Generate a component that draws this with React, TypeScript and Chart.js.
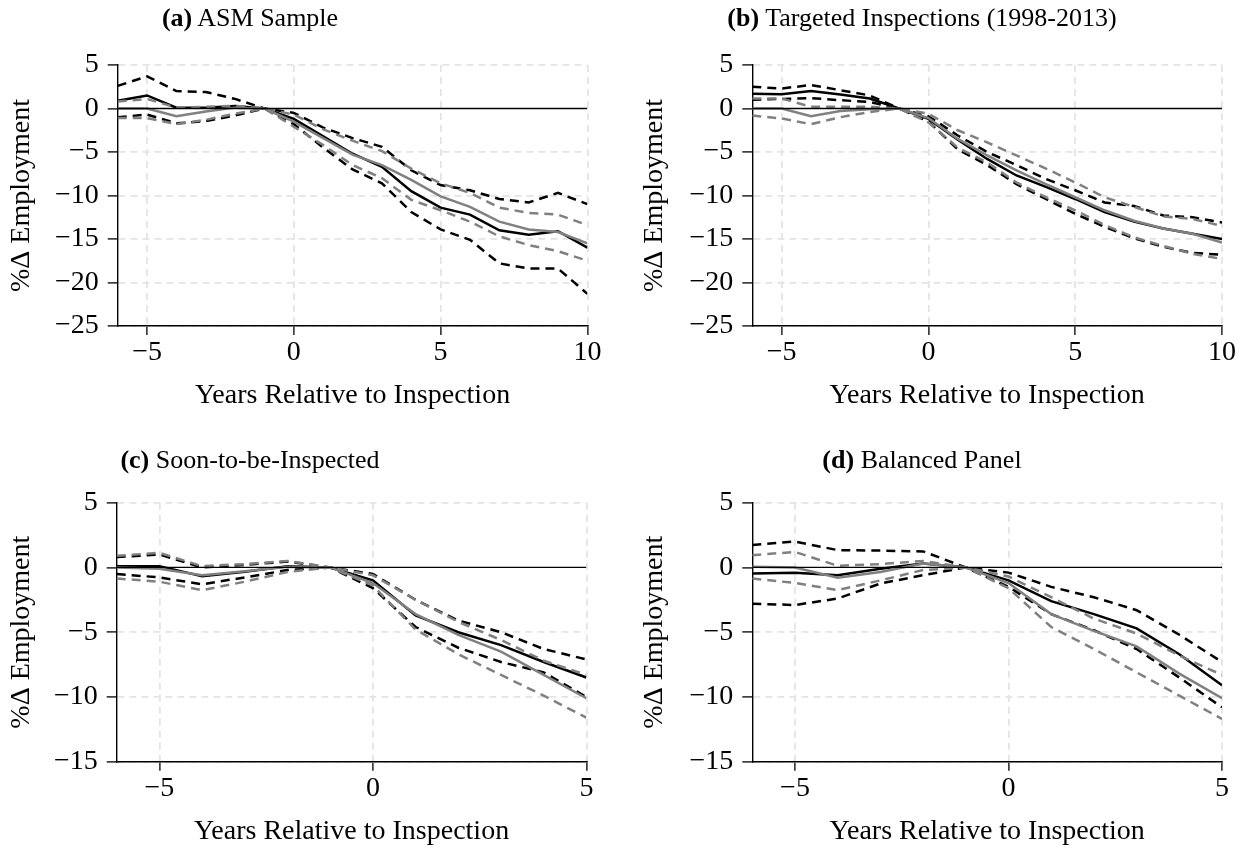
import React, { useEffect, useRef } from "react";
import { Chart, registerables } from "chart.js";

Chart.register(...registerables);

// ---------- data ----------
const yearsLong = [-6, -5, -4, -3, -2, -1, 0, 1, 2, 3, 4, 5, 6, 7, 8, 9, 10];
const yearsShort = [-6, -5, -4, -3, -2, -1, 0, 1, 2, 3, 4, 5];

const xTicksLong = [-5, 0, 5, 10];
const xTicksShort = [-5, 0, 5];
const yTicksTop = [-25, -20, -15, -10, -5, 0, 5];
const yTicksBottom = [-15, -10, -5, 0, 5];

// (a) ASM Sample
const aBlackSolid = [0.9, 1.5, 0.1, 0.1, 0.3, 0, -1.2, -3.2, -5.2, -6.7, -9.5, -11.4, -12.2, -14.0, -14.5, -14.1, -16.0];
const aBlackUpper = [2.6, 3.7, 2.0, 1.9, 1.1, 0, -0.5, -2.2, -3.4, -4.4, -7.1, -8.8, -9.4, -10.4, -10.8, -9.7, -11.0];
const aBlackLower = [-1.0, -0.7, -1.7, -1.45, -0.8, 0, -1.8, -4.5, -7.0, -8.6, -11.9, -13.9, -15.1, -17.8, -18.4, -18.4, -21.3];
const aGraySolid = [0.0, 0.0, -0.9, -0.35, 0.1, 0, -1.5, -3.4, -5.3, -6.5, -8.2, -10.1, -11.3, -13.0, -13.9, -14.2, -15.5];
const aGrayUpper = [0.8, 1.1, 0.1, 0.2, 0.3, 0, -0.7, -2.4, -3.7, -4.9, -6.9, -8.6, -9.7, -11.4, -12.0, -12.2, -13.4];
const aGrayLower = [-1.1, -1.1, -1.8, -1.3, -0.6, 0, -2.1, -4.2, -6.5, -8.0, -10.5, -11.7, -13.0, -14.7, -15.7, -16.4, -17.5];

// (b) Targeted Inspections (1998-2013)
const bBlackSolid = [1.7, 1.65, 2.0, 1.6, 1.15, 0, -1.2, -3.6, -5.8, -7.7, -9.0, -10.4, -11.9, -13.0, -13.8, -14.4, -15.0];
const bBlackUpper = [2.5, 2.3, 2.7, 2.1, 1.5, 0, -0.9, -3.1, -5.0, -6.5, -8.1, -9.4, -10.8, -11.2, -12.3, -12.5, -13.1];
const bBlackLower = [1.0, 1.1, 1.2, 0.95, 0.75, 0, -1.5, -4.7, -6.5, -8.7, -10.4, -12.1, -13.6, -14.9, -15.9, -16.6, -16.8];
const bGraySolid = [0.0, 0.0, -0.9, -0.3, -0.1, 0, -1.1, -3.5, -5.4, -7.1, -8.7, -10.2, -11.7, -12.9, -13.8, -14.4, -15.4];
const bGrayUpper = [1.15, 1.15, 0.2, 0.2, 0.2, 0, -0.6, -2.5, -3.9, -5.4, -6.9, -8.5, -10.2, -11.3, -12.4, -12.7, -13.5];
const bGrayLower = [-0.8, -1.15, -1.8, -1.0, -0.4, 0, -1.6, -4.5, -6.2, -8.5, -10.2, -11.7, -13.4, -14.8, -15.8, -16.7, -17.3];

// (c) Soon-to-be-Inspected
const cBlackSolid = [0.1, 0.1, -0.67, -0.33, 0.1, 0, -1.0, -3.7, -5.0, -6.0, -7.3, -8.5];
const cBlackUpper = [0.8, 1.0, 0.0, 0.2, 0.45, 0, -0.5, -2.5, -4.1, -5.0, -6.3, -7.1];
const cBlackLower = [-0.5, -0.77, -1.3, -0.77, -0.2, 0, -1.6, -4.6, -6.2, -7.3, -8.1, -10.0];
const cGraySolid = [0.0, -0.1, -0.6, -0.3, 0.05, 0, -1.2, -3.6, -5.2, -6.5, -8.3, -10.1];
const cGrayUpper = [0.9, 1.13, 0.1, 0.26, 0.5, 0, -0.6, -2.5, -4.2, -5.6, -7.2, -8.3];
const cGrayLower = [-0.85, -1.1, -1.75, -1.1, -0.35, 0, -1.4, -4.8, -6.7, -8.3, -9.9, -11.6];

// (d) Balanced Panel
const dBlackSolid = [-0.46, -0.4, -0.6, -0.1, 0.3, 0, -1.0, -2.6, -3.6, -4.7, -6.7, -9.1];
const dBlackUpper = [1.73, 2.0, 1.34, 1.3, 1.24, 0, -0.4, -1.5, -2.3, -3.3, -5.2, -7.3];
const dBlackLower = [-2.8, -2.9, -2.4, -1.24, -0.6, 0, -1.5, -3.6, -4.85, -6.3, -8.5, -10.8];
const dGraySolid = [0.05, 0.0, -0.8, -0.35, 0.3, 0, -1.2, -3.6, -4.9, -6.1, -8.2, -10.1];
const dGrayUpper = [0.95, 1.2, 0.13, 0.26, 0.5, 0, -0.7, -2.3, -3.95, -5.1, -6.8, -8.3];
const dGrayLower = [-0.85, -1.2, -1.75, -1.0, -0.2, 0, -1.6, -4.6, -6.3, -8.1, -9.9, -11.7];

const panelLetters = ["(a)", "(b)", "(c)", "(d)"];
const panelNames = ["ASM Sample", "Targeted Inspections (1998-2013)", "Soon-to-be-Inspected", "Balanced Panel"];
const xAxisTitle = "Years Relative to Inspection";
const yAxisTitle = "%\u0394 Employment";

// ---------- styling / layout ----------
const FONT = "'Liberation Serif', 'Times New Roman', serif";
const BLACK = "#000000";
const GRAY = "#808080";
const GRID = "#e4e4e4";

type Spec = {
  left: number; top: number; w: number; h: number;
  padTop: number; padRight: number; yWidth: number; xHeight: number;
  xTitlePad: number; yTitlePad: number;
  years: number[]; xMin: number; xMax: number; xTicks: number[];
  yMin: number; yMax: number; yTicks: number[];
  series: number[][]; // blackSolid, blackUpper, blackLower, graySolid, grayUpper, grayLower
  titleX: number; titleY: number; idx: number;
};

const specs: Spec[] = [
  {
    left: 0, top: 30, w: 623, h: 400, padTop: 35, padRight: 35.6, yWidth: 117.7, xHeight: 104,
    xTitlePad: 18, yTitlePad: 5, years: yearsLong, xMin: -6, xMax: 10, xTicks: xTicksLong,
    yMin: -25, yMax: 5, yTicks: yTicksTop,
    series: [aBlackSolid, aBlackUpper, aBlackLower, aGraySolid, aGrayUpper, aGrayLower],
    titleX: 250, titleY: 18, idx: 0,
  },
  {
    left: 635, top: 30, w: 612, h: 400, padTop: 35, padRight: 25, yWidth: 117.3, xHeight: 104,
    xTitlePad: 18, yTitlePad: 3, years: yearsLong, xMin: -6, xMax: 10, xTicks: xTicksLong,
    yMin: -25, yMax: 5, yTicks: yTicksTop,
    series: [bBlackSolid, bBlackUpper, bBlackLower, bGraySolid, bGrayUpper, bGrayLower],
    titleX: 922, titleY: 18, idx: 1,
  },
  {
    left: 0, top: 470, w: 623, h: 380, padTop: 32.7, padRight: 36.6, yWidth: 116.7, xHeight: 88.3,
    xTitlePad: 2, yTitlePad: 5, years: yearsShort, xMin: -6, xMax: 5, xTicks: xTicksShort,
    yMin: -15, yMax: 5, yTicks: yTicksBottom,
    series: [cBlackSolid, cBlackUpper, cBlackLower, cGraySolid, cGrayUpper, cGrayLower],
    titleX: 250, titleY: 460, idx: 2,
  },
  {
    left: 635, top: 470, w: 612, h: 380, padTop: 32.7, padRight: 25, yWidth: 117.3, xHeight: 88.3,
    xTitlePad: 2, yTitlePad: 3, years: yearsShort, xMin: -6, xMax: 5, xTicks: xTicksShort,
    yMin: -15, yMax: 5, yTicks: yTicksBottom,
    series: [dBlackSolid, dBlackUpper, dBlackLower, dGraySolid, dGrayUpper, dGrayLower],
    titleX: 922, titleY: 460, idx: 3,
  },
];

const fmt = (v: number) => (v < 0 ? "\u2212" + Math.abs(v) : String(v));

function line(xs: number[], ys: number[], color: string, dashed: boolean) {
  return {
    data: xs.map((x, i) => ({ x, y: ys[i] })),
    borderColor: color,
    borderWidth: 2.5,
    borderDash: dashed ? [9, 6] : [],
    pointRadius: 0,
    tension: 0,
    fill: false,
  };
}

function build(canvas: HTMLCanvasElement, s: Spec) {
  const [bs, bu, bl, gs, gu, gl] = s.series;
  const zero = {
    data: [{ x: s.xMin, y: 0 }, { x: s.xMax, y: 0 }],
    borderColor: BLACK, borderWidth: 1.3, pointRadius: 0, fill: false,
  };
  const gridColor = (ctx: any) => (ctx.tick && ctx.tick.value === 0 && ctx.scale.axis === "y" ? "rgba(0,0,0,0)" : GRID);
  const tickFont = { family: FONT, size: 28 };
  const titleFont = { family: FONT, size: 28 };
  return new Chart(canvas, {
    type: "line",
    data: {
      datasets: [
        zero,
        line(s.years, gl, GRAY, true),
        line(s.years, gu, GRAY, true),
        line(s.years, gs, GRAY, false),
        line(s.years, bl, BLACK, true),
        line(s.years, bu, BLACK, true),
        line(s.years, bs, BLACK, false),
      ] as any,
    },
    options: {
      responsive: false,
      animation: false,
      devicePixelRatio: 1,
      layout: { padding: { left: 0, top: s.padTop, right: s.padRight, bottom: 0 } },
      plugins: { legend: { display: false }, tooltip: { enabled: false }, title: { display: false } },
      scales: {
        x: {
          type: "linear",
          min: s.xMin,
          max: s.xMax,
          afterBuildTicks: (ax: any) => { ax.ticks = s.xTicks.map((v) => ({ value: v })); },
          afterFit: (ax: any) => { ax.height = s.xHeight; },
          grid: { color: gridColor, lineWidth: 1.8, tickColor: BLACK, tickLength: 9, tickWidth: 1.3 },
          border: { display: true, color: BLACK, width: 1.4, dash: [7, 5] },
          ticks: { font: tickFont, color: BLACK, padding: 1, maxRotation: 0, autoSkip: false, callback: (v: any) => fmt(Number(v)) },
          title: { display: true, text: xAxisTitle, font: titleFont, color: BLACK, padding: { top: 0, bottom: s.xTitlePad } },
        },
        y: {
          type: "linear",
          min: s.yMin,
          max: s.yMax,
          afterBuildTicks: (ax: any) => { ax.ticks = s.yTicks.map((v) => ({ value: v })); },
          afterFit: (ax: any) => { ax.width = s.yWidth; },
          grid: { color: gridColor, lineWidth: 1.8, tickColor: BLACK, tickLength: 10, tickWidth: 1.3 },
          border: { display: true, color: BLACK, width: 1.4, dash: [7, 5] },
          ticks: { font: tickFont, color: BLACK, padding: 9, autoSkip: false, callback: (v: any) => fmt(Number(v)) },
          title: { display: true, text: yAxisTitle, font: titleFont, color: BLACK, padding: { top: s.yTitlePad, bottom: 0 } },
        },
      },
    } as any,
  });
}

function Panel({ spec }: { spec: Spec }) {
  const ref = useRef<HTMLCanvasElement | null>(null);
  useEffect(() => {
    if (!ref.current) return;
    const chart = build(ref.current, spec);
    return () => chart.destroy();
  }, [spec]);
  return (
    <>
      <canvas
        ref={ref}
        width={spec.w}
        height={spec.h}
        style={{ position: "absolute", left: spec.left, top: spec.top, width: spec.w, height: spec.h }}
      />
      <div
        style={{
          position: "absolute",
          left: spec.titleX,
          top: spec.titleY,
          transform: "translate(-50%, -50%)",
          fontFamily: FONT,
          fontSize: 26,
          lineHeight: 1,
          whiteSpace: "nowrap",
          color: BLACK,
        }}
      >
        <b>{panelLetters[spec.idx]}</b> {panelNames[spec.idx]}
      </div>
    </>
  );
}

export default function App() {
  return (
    <div style={{ position: "fixed", left: 0, top: 0, width: 1247, height: 852, background: "#ffffff", overflow: "hidden" }}>
      {specs.map((s) => (
        <Panel key={s.idx} spec={s} />
      ))}
    </div>
  );
}
